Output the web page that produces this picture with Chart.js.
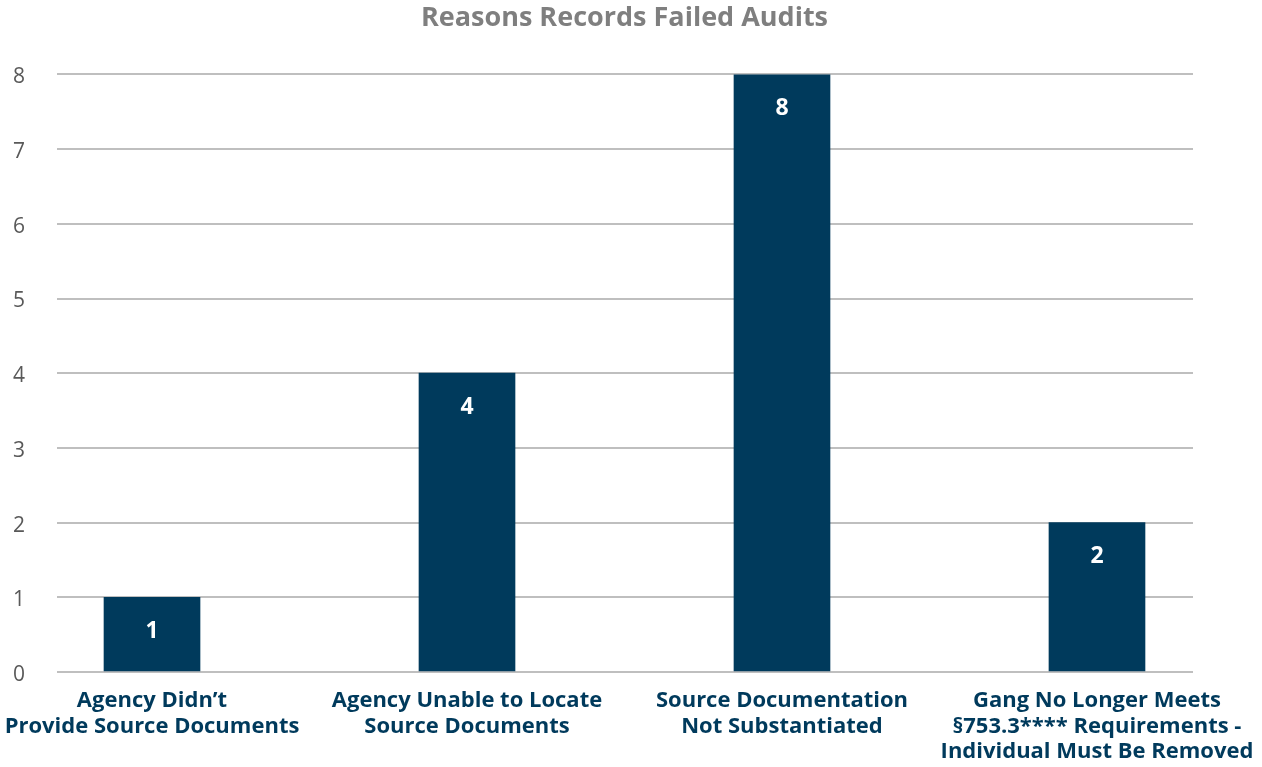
<!DOCTYPE html>
<html>
<head>
<meta charset="utf-8">
<script src="https://cdn.jsdelivr.net/npm/chart.js@4"></script>
<style>
  html, body { margin: 0; padding: 0; background: #fff; }
  #wrap { width: 1262px; height: 767px; }
</style>
</head>
<body>
<div id="wrap"><canvas id="auditChart"></canvas></div>
<script>
const categories = [
  ["Agency Didn\u2019t", "Provide Source Documents"],
  ["Agency Unable to Locate", "Source Documents"],
  ["Source Documentation", "Not Substantiated"],
  ["Gang No Longer Meets", "\u00a7753.3**** Requirements -", "Individual Must Be Removed"]
];
const failedCounts = [1, 4, 8, 2];
const yTicks = [0, 1, 2, 3, 4, 5, 6, 7, 8];

const FONT = "'Open Sans', 'Noto Sans', sans-serif";
const BAR_COLOR = '#003a5c';

// white value labels just inside the top of each bar
const valueLabels = {
  id: 'valueLabels',
  afterDatasetsDraw(chart) {
    const ctx = chart.ctx;
    const meta = chart.getDatasetMeta(0);
    ctx.save();
    ctx.fillStyle = '#ffffff';
    ctx.font = 'bold 23px ' + FONT;
    ctx.textAlign = 'center';
    ctx.textBaseline = 'middle';
    meta.data.forEach((bar, i) => {
      ctx.fillText(String(failedCounts[i]), bar.x, bar.y + 34);
    });
    ctx.restore();
  }
};

new Chart(document.getElementById('auditChart'), {
  type: 'bar',
  data: {
    datasets: [{
      label: 'Records',
      data: failedCounts.map((v, i) => ({ x: i, y: v })),
      backgroundColor: BAR_COLOR,
      barThickness: 96,
    }],
  },
  options: {
    responsive: true,
    maintainAspectRatio: false,
    animation: false,
    layout: {
      padding: { left: 0, right: 13, top: 0, bottom: 0 },
    },
    plugins: {
      legend: { display: false },
      tooltip: { enabled: false },
      title: {
        display: true,
        text: 'Reasons Records Failed Audits',
        color: '#7f7f7f',
        font: { family: FONT, size: 27, weight: 'bold', lineHeight: 1.2 },
        padding: { top: 2, bottom: 40 },
      },
    },
    scales: {
      x: {
        type: 'linear',
        min: -0.3016,
        max: 3.3048,
        offset: false,
        grid: { display: false, drawTicks: false },
        border: { display: false },
        afterBuildTicks(scale) {
          scale.ticks = categories.map((c, i) => ({ value: i }));
        },
        afterFit(scale) {
          scale.height = 95;
          scale.paddingLeft = 0;
          scale.paddingRight = 0;
        },
        ticks: {
          autoSkip: false,
          maxRotation: 0,
          padding: 16,
          color: '#003a5c',
          font: { family: FONT, size: 22, weight: 'bold', lineHeight: 1.16 },
          callback: (value) => categories[value],
        },
      },
      y: {
        min: 0,
        max: 8,
        afterBuildTicks(scale) {
          scale.ticks = yTicks.map(v => ({ value: v }));
        },
        afterFit(scale) { scale.width = 57; },
        grid: { color: '#bfbfbf', lineWidth: 2, drawTicks: false },
        border: { display: false },
        ticks: {
          padding: 32,
          labelOffset: 3,
          color: '#595959',
          font: { family: FONT, size: 21 },
        },
      },
      // empty right-hand axis that only reserves space, so the title stays centred
      yRight: {
        position: 'right',
        min: 0,
        max: 8,
        grid: { display: false, drawTicks: false },
        border: { display: false },
        ticks: { display: false },
        afterFit(scale) { scale.width = 56; },
      },
    },
  },
  plugins: [valueLabels],
});
</script>
</body>
</html>
